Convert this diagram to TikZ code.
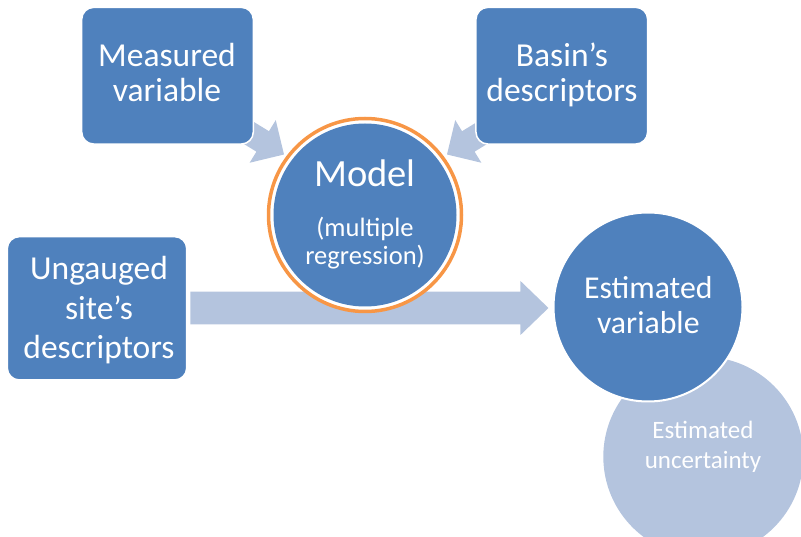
\documentclass[tikz,border=0pt]{standalone}
\usepackage{fontspec}
\setmainfont{Carlito}
\usetikzlibrary{calc}
\definecolor{boxblue}{RGB}{79,129,189}
\definecolor{paleblue}{RGB}{180,196,222}
\definecolor{ringorange}{RGB}{247,150,70}
\tikzset{
  block/.style={draw=white, line width=1.5pt, fill=boxblue, rounded corners=12pt,
    inner sep=0pt},
  disc/.style={circle, inner sep=0pt},
  lbl/.style={anchor=base, text=white, inner sep=0pt},
  boxtxt/.style={lbl, font=\fontsize{33.5}{37}\selectfont},
  esttxt/.style={lbl, font=\fontsize{31.8}{35}\selectfont},
  modeltxt/.style={lbl, font=\fontsize{38.5}{42}\selectfont},
  midtxt/.style={lbl, font=\fontsize{26.5}{29}\selectfont},
  smalltxt/.style={lbl, font=\fontsize{25}{28}\selectfont},
  feed/.style={fill=paleblue},
}
\begin{document}
\begin{tikzpicture}[x=1pt,y=1pt]
\useasboundingbox (0,0) rectangle (801,536);

% feeding arrows into the model (partly hidden behind the boxes)
\coordinate (tipL) at (284,381.5);
\coordinate (tipR) at (447,381.5);
\begin{scope}[shift={(tipL)}, rotate=-31.5]
  \fill[feed] (0,0) -- (-25,25) -- (-25,12) -- (-95,12) -- (-95,-12)
    -- (-25,-12) -- (-25,-25) -- cycle;
\end{scope}
\begin{scope}[shift={(tipR)}, rotate=211.5]
  \fill[feed] (0,0) -- (-25,25) -- (-25,12) -- (-95,12) -- (-95,-12)
    -- (-25,-12) -- (-25,-25) -- cycle;
\end{scope}

% input boxes
\node[block, minimum width=171.6pt, minimum height=136.7pt] (meas) at (167.5,460.3) {};
\node[block, minimum width=171.7pt, minimum height=136.7pt] (basin) at (561.8,460.3) {};
\node[block, minimum width=179.4pt, minimum height=143.3pt] (ung) at (97,227.7) {};

\node[boxtxt] (meas1) at (167,469.3) {Measured};
\node[boxtxt] (meas2) at (167,434.3) {variable};
\node[boxtxt] (basin1) at (562,469.3) {Basin’s};
\node[boxtxt] (basin2) at (562,434.3) {descriptors};
\node[boxtxt] (ung1) at (99,256) {Ungauged};
\node[boxtxt] (ung2) at (99,216.7) {site’s};
\node[boxtxt] (ung3) at (99,177.7) {descriptors};

% main arrow from the ungauged site to the estimate
\coordinate (tail) at ($(ung.east)+(3,0.3)$);
\begin{scope}[shift={(tail)}]
  \fill[feed] (0,-16.3) -- (330,-16.3) -- (330,-27) -- (358,0) -- (330,27)
    -- (330,16.3) -- (0,16.3) -- cycle;
\end{scope}

% model
\node[disc, fill=white, draw=ringorange, line width=3.5pt, minimum size=193pt]
  (ring) at (365,321) {};
\node[disc, fill=boxblue, minimum size=183pt] (model) at (ring.center) {};
\node[modeltxt] (model1) at (365,349.3) {Model};
\node[midtxt] (model2) at (365,299.3) {(multiple};
\node[midtxt] (model3) at (365,271) {regression)};

% outputs
\node[disc, fill=paleblue, minimum size=200pt] (unc) at (703.3,79.3) {};
\node[disc, fill=boxblue, draw=white, line width=2pt, minimum size=189pt]
  (est) at (648,229) {};
\node[esttxt] (est1) at (648.3,237.7) {Estimated};
\node[esttxt] (est2) at (648.3,202.7) {variable};
\node[smalltxt] (unc1) at (703,97) {Estimated};
\node[smalltxt] (unc2) at (703,67) {uncertainty};
\end{tikzpicture}
\end{document}
